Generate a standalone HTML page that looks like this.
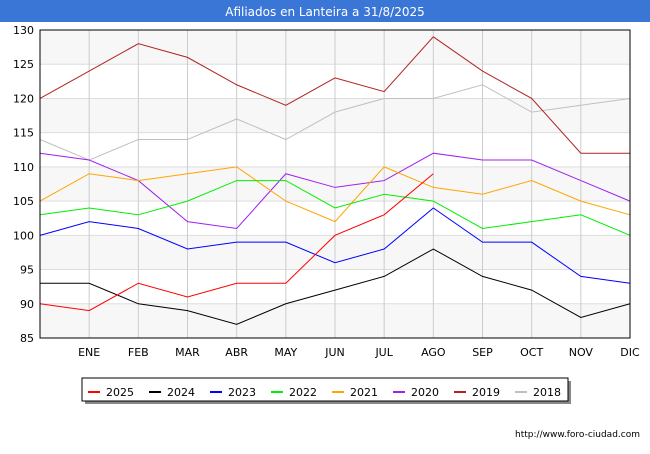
<!DOCTYPE html>
<html><head><meta charset="utf-8"><style>
body{margin:0;background:#fff;font-family:"DejaVu Sans","Liberation Sans",sans-serif}
</style></head><body>
<svg id="c" width="650" height="450" xmlns="http://www.w3.org/2000/svg" font-family="DejaVu Sans, Liberation Sans, sans-serif">
<rect x="0" y="0" width="650" height="450" fill="#fff"/>
<g id="grid"></g><g id="lines"></g><g id="axes"></g>
<rect x="0" y="0" width="650" height="22" fill="#3a76d6"/>
<text x="325" y="16" fill="#fff" font-size="12" text-anchor="middle">Afiliados en Lanteira a 31/8/2025</text>
<rect x="85" y="381" width="486" height="23" fill="#888"/>
<rect x="82" y="378" width="486" height="23" fill="#fff" stroke="#000" stroke-width="1"/>
<g id="legend"></g>
<text x="640" y="437" font-size="9" text-anchor="end" fill="#000">http://www.foro-ciudad.com</text>
</svg>
<script>
const months=["","ENE","FEB","MAR","ABR","MAY","JUN","JUL","AGO","SEP","OCT","NOV","DIC"];
const yTicks=[85,90,95,100,105,110,115,120,125,130];
const seriesNames=["2025","2024","2023","2022","2021","2020","2019","2018"];
const colors=["#ff0000","#000000","#0000ff","#00ee00","#ffa500","#a020f0","#b22222","#c0c0c0"];
const s2025=[90,89,93,91,93,93,100,103,109];
const s2024=[93,93,90,89,87,90,92,94,98,94,92,88,90];
const s2023=[100,102,101,98,99,99,96,98,104,99,99,94,93];
const s2022=[103,104,103,105,108,108,104,106,105,101,102,103,100];
const s2021=[105,109,108,109,110,105,102,110,107,106,108,105,103];
const s2020=[112,111,108,102,101,109,107,108,112,111,111,108,105];
const s2019=[120,124,128,126,122,119,123,121,129,124,120,112,112];
const s2018=[114,111,114,114,117,114,118,120,120,122,118,119,120];
const data=[s2025,s2024,s2023,s2022,s2021,s2020,s2019,s2018];
const X0=40,X1=630,Y0=30,Y1=338,vmin=85,vmax=130;
const xs=i=>X0+i*(X1-X0)/12;
const ys=v=>Y0+(vmax-v)*(Y1-Y0)/(vmax-vmin);
const NS="http://www.w3.org/2000/svg";
function mk(t,a,p){const e=document.createElementNS(NS,t);for(const k in a)e.setAttribute(k,a[k]);p.appendChild(e);return e;}
const g=document.getElementById('grid'),L=document.getElementById('lines'),A=document.getElementById('axes'),G=document.getElementById('legend');
for(let v=85;v<130;v+=10){const b=mk('rect',{x:X0,y:ys(v+5),width:X1-X0,height:ys(v)-ys(v+5),fill:'#f7f7f7'},g);

}
yTicks.forEach(v=>{const l=mk('line',{x1:X0,x2:X1,y1:ys(v),y2:ys(v),stroke:'#ddd','stroke-width':1},g);


const t=mk('text',{x:X0-6,y:ys(v)+4,'font-size':11,'text-anchor':'end',fill:'#000'},A);t.textContent=v;

});
months.forEach((m,i)=>{if(i>0){const l=mk('line',{x1:xs(i),x2:xs(i),y1:Y0,y2:Y1,stroke:'#ccc','stroke-width':1},g);

}
const t=mk('text',{x:xs(i),y:356,'font-size':11,'text-anchor':'middle',fill:'#000'},A);t.textContent=m;

});
const fr=mk('rect',{x:X0,y:Y0,width:X1-X0,height:Y1-Y0,fill:'none',stroke:'#000','stroke-width':1},A);


for(let k=data.length-1;k>=0;k--){const p=mk('polyline',{points:data[k].map((v,i)=>xs(i)+','+ys(v)).join(' '),fill:'none',stroke:colors[k],'stroke-width':1},L);

}
seriesNames.forEach((n,k)=>{const x=88+k*61;const l=mk('line',{x1:x,x2:x+12,y1:392,y2:392,stroke:colors[k],'stroke-width':2},G);


const t=mk('text',{x:x+18,y:396,'font-size':11,fill:'#000'},G);t.textContent=n;

});
</script>
</body></html>
